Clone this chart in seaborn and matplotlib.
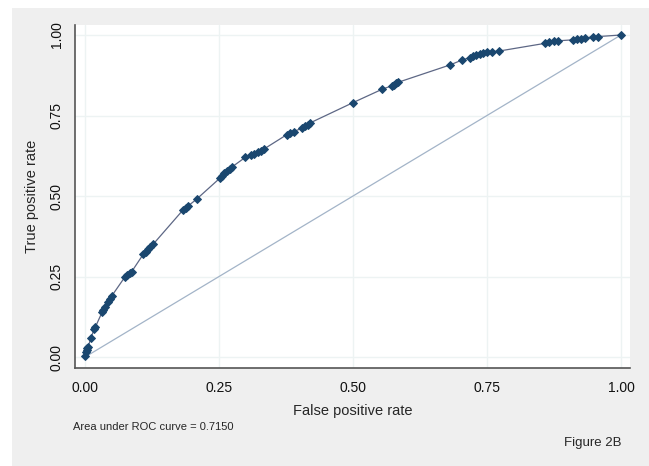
import matplotlib
matplotlib.use("Agg")
import matplotlib.pyplot as plt
from matplotlib.patches import Rectangle
import pandas as pd
import seaborn as sns

# ROC points
FPR = [0.000, 0.002, 0.003, 0.004, 0.006, 0.011, 0.017, 0.019, 0.032, 0.034,
       0.037, 0.043, 0.046, 0.050, 0.075, 0.079, 0.083, 0.087, 0.109, 0.113,
       0.118, 0.122, 0.127, 0.183, 0.188, 0.193, 0.208, 0.252, 0.256, 0.260,
       0.265, 0.270, 0.274, 0.299, 0.310, 0.316, 0.322, 0.328, 0.333, 0.376,
       0.383, 0.389, 0.404, 0.410, 0.416, 0.420, 0.500, 0.555, 0.572, 0.576,
       0.580, 0.584, 0.681, 0.703, 0.718, 0.724, 0.730, 0.737, 0.743, 0.750,
       0.759, 0.772, 0.858, 0.866, 0.875, 0.883, 0.911, 0.918, 0.925, 0.933,
       0.948, 0.957, 1.000]
TPR = [0.003, 0.016, 0.022, 0.027, 0.032, 0.060, 0.086, 0.092, 0.140, 0.147,
       0.155, 0.170, 0.180, 0.190, 0.250, 0.255, 0.260, 0.265, 0.320, 0.327,
       0.335, 0.342, 0.350, 0.457, 0.463, 0.470, 0.490, 0.556, 0.563, 0.570,
       0.577, 0.584, 0.590, 0.620, 0.627, 0.632, 0.637, 0.641, 0.645, 0.690,
       0.695, 0.700, 0.710, 0.716, 0.722, 0.727, 0.790, 0.832, 0.842, 0.846,
       0.850, 0.853, 0.907, 0.922, 0.930, 0.934, 0.938, 0.942, 0.943, 0.946,
       0.948, 0.950, 0.974, 0.977, 0.980, 0.982, 0.985, 0.987, 0.988, 0.990,
       0.995, 0.995, 1.000]
REF_X = [0.0, 1.0]
REF_Y = [0.0, 1.0]
TICKS = [0.0, 0.25, 0.5, 0.75, 1.0]
TICK_LABELS = ["0.00", "0.25", "0.50", "0.75", "1.00"]
AUC_TEXT = "Area under ROC curve = 0.7150"

sns.set_style("white")
plt.rcParams["font.family"] = ["Liberation Sans", "DejaVu Sans"]

W, H = 649, 466
fig = plt.figure(figsize=(W / 100, H / 100), dpi=100, facecolor="white")
# gray graph region behind the plot
fig.patches.append(Rectangle((12 / W, 0), 1 - 12 / W, 1 - 8 / H,
                             transform=fig.transFigure, facecolor="#efefef",
                             edgecolor="none", zorder=-10))

ax = fig.add_axes([75 / W, 1 - 368 / H, (630 - 75) / W, (368 - 25) / H])
ax.set_facecolor("white")

df = pd.DataFrame({"fpr": FPR, "tpr": TPR})
sns.lineplot(x=REF_X, y=REF_Y, ax=ax, color="#a3b4c8", lw=0.9, zorder=2)
sns.lineplot(data=df, x="fpr", y="tpr", ax=ax, sort=False, estimator=None,
             color="#5d6785", lw=0.9, marker="D", markersize=4.5,
             markerfacecolor="#1a476f", markeredgecolor="#1a476f",
             markeredgewidth=0.7, zorder=3)

ax.set_xlim(-0.0187, 1.0168)
ax.set_ylim(-0.034, 1.031)
ax.set_xticks(TICKS)
ax.set_yticks(TICKS)
ax.set_xticklabels(TICK_LABELS, fontsize=10)
ax.set_yticklabels(TICK_LABELS, fontsize=10, rotation=90, va="center")
ax.grid(True, color="#edf3f3", lw=1)
ax.set_axisbelow(True)

for s in ["top", "right"]:
    ax.spines[s].set_visible(False)
for s in ["left", "bottom"]:
    ax.spines[s].set_color("#555555")
    ax.spines[s].set_linewidth(1.2)
ax.tick_params(axis="both", direction="out", length=5, width=0.9,
               color="#333333", labelcolor="#111111", pad=4)
ax.tick_params(axis="y", pad=3)

ax.set_xlabel("False positive rate", fontsize=10.5, labelpad=7)
ax.set_ylabel("True positive rate", fontsize=10.5, labelpad=8)

fig.text(73 / W, 1 - 427 / H, AUC_TEXT, fontsize=8, va="center", ha="left")
fig.text(621 / W, 1 - 443 / H, "Figure 2B", fontsize=9.5, va="center", ha="right")

fig.savefig("out.png", dpi=100, facecolor="white")
